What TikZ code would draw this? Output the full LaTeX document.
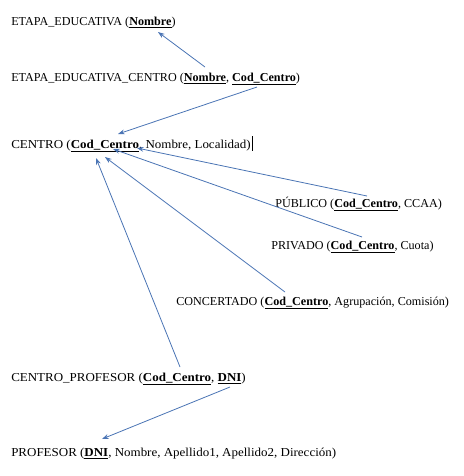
\documentclass[tikz,border=0pt]{standalone}
\usepackage{fontspec}
\setmainfont{Liberation Serif}
\usetikzlibrary{arrows.meta}
\newcommand{\pk}[1]{\underline{\textbf{#1}}}
\newcommand{\wide}[1]{\scalebox{1.07}[1]{#1}}
\begin{document}
\begin{tikzpicture}[x=0.75pt,y=-0.75pt,
  rel/.style={anchor=base west,inner sep=0pt,font=\fontsize{9.1}{11}\selectfont},
  fk/.style={draw=arrowblue,line width=0.6pt,-{Stealth[length=5pt,width=3.6pt]}}]
\definecolor{arrowblue}{HTML}{4A74B4}
\useasboundingbox (0,0) rectangle (464,476);
\node[rel] (ee) at (11,25) {ETAPA\_EDUCATIVA (\pk{Nombre})};
\node[rel] (eec) at (11,81) {ETAPA\_EDUCATIVA\_CENTRO (\pk{Nombre}, \pk{Cod\_Centro})};
\node[rel] (ce) at (11,148) {\wide{CENTRO (\pk{Cod\_Centro}, Nombre, Localidad)}};
\node[rel] (pu) at (275,207) {PÚBLICO (\pk{Cod\_Centro}, CCAA)};
\node[rel] (pr) at (271,249) {PRIVADO (\pk{Cod\_Centro}, Cuota)};
\node[rel] (co) at (176,305) {CONCERTADO (\pk{Cod\_Centro}, Agrupación, Comisión)};
\node[rel] (cp) at (11,381) {\wide{CENTRO\_PROFESOR (\pk{Cod\_Centro}, \pk{DNI})}};
\node[rel] (pf) at (11,456) {\wide{PROFESOR (\pk{DNI}, Nombre, Apellido1, Apellido2, Dirección)}};
\draw[line width=0.5pt] (252,136) -- (252,151);
\coordinate (a1s) at (205,67);  \coordinate (a1t) at (158,32);
\coordinate (a2s) at (257,87);  \coordinate (a2t) at (118,134);
\coordinate (a3s) at (367,196); \coordinate (a3t) at (137,148);
\coordinate (a4s) at (362,237); \coordinate (a4t) at (113,149);
\coordinate (a5s) at (285,292); \coordinate (a5t) at (105,157);
\coordinate (a6s) at (180,367); \coordinate (a6t) at (96,158);
\coordinate (a7s) at (230,387); \coordinate (a7t) at (102,439);
\draw[fk] (a1s) -- (a1t);
\draw[fk] (a2s) -- (a2t);
\draw[fk] (a3s) -- (a3t);
\draw[fk] (a4s) -- (a4t);
\draw[fk] (a5s) -- (a5t);
\draw[fk] (a6s) -- (a6t);
\draw[fk] (a7s) -- (a7t);
\end{tikzpicture}
\end{document}
